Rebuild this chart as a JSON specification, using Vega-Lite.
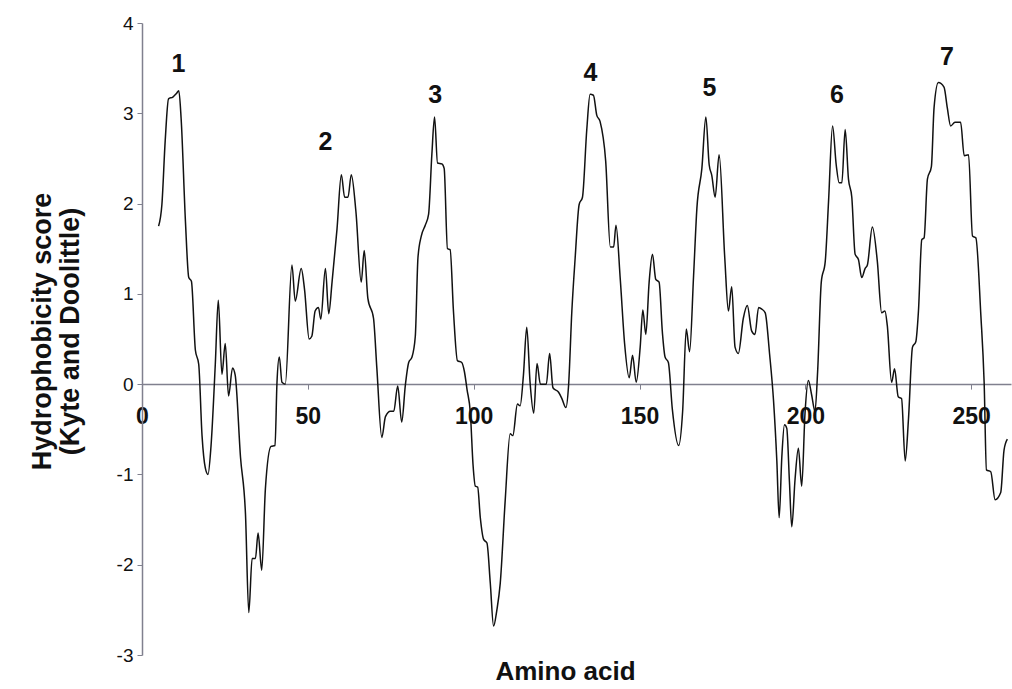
{
  "$schema": "https://vega.github.io/schema/vega-lite/v6.json",
  "width": 869,
  "height": 632,
  "autosize": "none",
  "padding": {"left": 142, "top": 23, "right": 1, "bottom": 34},
  "background": "white",
  "config": {"view": {"stroke": null}, "font": "Liberation Sans"},
  "encoding": {
    "x": {
      "field": "aa", "type": "quantitative",
      "scale": {"domain": [0, 262], "nice": false, "zero": false},
      "axis": {
        "title": "Amino acid", "offset": -270.9, "values": [0, 50, 100, 150, 200, 250], "grid": false,
        "domainColor": "#80808e", "domainWidth": 1.5, "tickColor": "#80808e", "tickSize": 5, "tickWidth": 1,
        "labelFont": "Liberation Sans", "labelFontWeight": "bold", "labelFontSize": 23, "labelColor": "#111111",
        "labelPadding": 16, "labelFlush": false, "labelOverlap": false,
        "titleFont": "Liberation Sans", "titleFontWeight": "bold", "titleFontSize": 26, "titleColor": "#111111",
        "titleX": 423, "titleY": 287, "titleBaseline": "middle", "titleAlign": "center"
      }
    },
    "y": {
      "field": "score", "type": "quantitative",
      "scale": {"domain": [-3, 4], "nice": false, "zero": false},
      "axis": {
        "title": ["Hydrophobicity score", "(Kyte and Doolittle)"], "values": [-3, -2, -1, 0, 1, 2, 3, 4], "grid": false,
        "labelExpr": "datum.value + ''",
        "domainColor": "#80808e", "domainWidth": 1.5, "tickColor": "#80808e", "tickSize": 5, "tickWidth": 1,
        "labelFont": "Liberation Sans", "labelFontSize": 19, "labelColor": "#111111", "labelPadding": 4,
        "titleFont": "Liberation Sans", "titleFontWeight": "bold", "titleFontSize": 27, "titleColor": "#111111",
        "titleX": -100, "titleY": 308, "titleAngle": -90, "titleBaseline": "middle", "titleAlign": "center", "titleLineHeight": 28
      }
    }
  },
  "layer": [
    {
      "data": {"values": [
        {"aa":5.0,"score":1.75},{"aa":6.0,"score":1.99},{"aa":7.0,"score":2.70},{"aa":8.0,"score":3.16},{"aa":9.3,"score":3.18},
        {"aa":10.4,"score":3.22},{"aa":11.1,"score":3.25},{"aa":11.8,"score":2.94},{"aa":13.1,"score":1.80},{"aa":14.1,"score":1.18},
        {"aa":14.9,"score":1.14},{"aa":16.1,"score":0.375},{"aa":17.1,"score":0.22},{"aa":18.1,"score":-0.57},{"aa":19.1,"score":-0.93},
        {"aa":19.9,"score":-1.0},{"aa":20.8,"score":-0.69},{"aa":22.1,"score":0.22},{"aa":23.0,"score":0.93},{"aa":24.1,"score":0.11},
        {"aa":25.1,"score":0.45},{"aa":26.1,"score":-0.13},{"aa":27.3,"score":0.18},{"aa":28.1,"score":0.10},{"aa":29.7,"score":-0.81},
        {"aa":31.2,"score":-1.44},{"aa":32.2,"score":-2.53},{"aa":33.2,"score":-1.93},{"aa":34.2,"score":-1.93},{"aa":35.0,"score":-1.65},
        {"aa":36.1,"score":-2.06},{"aa":37.2,"score":-1.16},{"aa":38.9,"score":-0.69},{"aa":40.1,"score":-0.68},{"aa":40.7,"score":0.02},
        {"aa":41.4,"score":0.30},{"aa":42.2,"score":0.02},{"aa":43.2,"score":0.0},{"aa":45.2,"score":1.32},{"aa":46.2,"score":0.92},
        {"aa":48.0,"score":1.28},{"aa":49.0,"score":1.05},{"aa":50.4,"score":0.50},{"aa":51.2,"score":0.53},{"aa":52.2,"score":0.81},
        {"aa":53.2,"score":0.85},{"aa":53.9,"score":0.72},{"aa":55.3,"score":1.28},{"aa":56.3,"score":0.78},{"aa":57.3,"score":1.13},
        {"aa":58.8,"score":1.72},{"aa":60.1,"score":2.32},{"aa":61.1,"score":2.07},{"aa":62.1,"score":2.07},{"aa":63.1,"score":2.32},
        {"aa":64.5,"score":1.91},{"aa":66.1,"score":1.13},{"aa":67.0,"score":1.48},{"aa":68.1,"score":0.95},{"aa":69.8,"score":0.73},
        {"aa":70.8,"score":0.18},{"aa":72.3,"score":-0.59},{"aa":73.4,"score":-0.36},{"aa":74.9,"score":-0.30},{"aa":75.9,"score":-0.30},
        {"aa":77.1,"score":-0.02},{"aa":78.3,"score":-0.42},{"aa":79.4,"score":-0.01},{"aa":80.4,"score":0.24},{"aa":81.4,"score":0.30},
        {"aa":82.4,"score":0.53},{"aa":83.2,"score":1.40},{"aa":84.2,"score":1.64},{"aa":85.4,"score":1.76},{"aa":86.4,"score":1.88},
        {"aa":87.4,"score":2.55},{"aa":88.2,"score":2.96},{"aa":89.1,"score":2.45},{"aa":90.4,"score":2.44},{"aa":91.1,"score":2.39},
        {"aa":92.1,"score":1.50},{"aa":92.9,"score":1.49},{"aa":93.9,"score":0.81},{"aa":95.1,"score":0.26},{"aa":96.4,"score":0.24},
        {"aa":97.2,"score":0.14},{"aa":98.0,"score":-0.06},{"aa":99.0,"score":-0.32},{"aa":99.8,"score":-0.89},{"aa":100.5,"score":-1.13},
        {"aa":101.2,"score":-1.14},{"aa":102.0,"score":-1.48},{"aa":103.0,"score":-1.72},{"aa":104.0,"score":-1.76},{"aa":105.0,"score":-2.2},
        {"aa":106.0,"score":-2.68},{"aa":107.0,"score":-2.5},{"aa":108.0,"score":-2.21},{"aa":109.5,"score":-1.29},{"aa":111.0,"score":-0.55},
        {"aa":111.8,"score":-0.57},{"aa":113.2,"score":-0.22},{"aa":114.0,"score":-0.24},{"aa":115.0,"score":0.10},{"aa":116.0,"score":0.63},
        {"aa":117.0,"score":0.02},{"aa":118.1,"score":-0.32},{"aa":119.1,"score":0.23},{"aa":120.1,"score":0.0},{"aa":121.9,"score":0.0},
        {"aa":122.9,"score":0.34},{"aa":123.9,"score":-0.04},{"aa":125.6,"score":-0.09},{"aa":126.6,"score":-0.16},{"aa":127.8,"score":-0.26},
        {"aa":128.6,"score":-0.02},{"aa":129.6,"score":0.81},{"aa":130.6,"score":1.40},{"aa":131.8,"score":1.99},{"aa":132.8,"score":2.07},
        {"aa":134.1,"score":2.82},{"aa":135.1,"score":3.21},{"aa":136.1,"score":3.20},{"aa":137.1,"score":2.98},{"aa":138.1,"score":2.91},
        {"aa":139.8,"score":2.47},{"aa":141.2,"score":1.52},{"aa":142.2,"score":1.52},{"aa":142.9,"score":1.76},{"aa":144.2,"score":1.16},
        {"aa":145.5,"score":0.45},{"aa":146.9,"score":0.07},{"aa":147.9,"score":0.32},{"aa":149.0,"score":0.02},{"aa":150.2,"score":0.41},
        {"aa":151.0,"score":0.82},{"aa":151.9,"score":0.55},{"aa":152.9,"score":1.13},{"aa":153.9,"score":1.44},{"aa":154.9,"score":1.16},
        {"aa":155.9,"score":1.13},{"aa":156.9,"score":0.57},{"aa":157.7,"score":0.30},{"aa":158.7,"score":0.24},{"aa":159.9,"score":-0.28},
        {"aa":161.8,"score":-0.68},{"aa":163.0,"score":-0.30},{"aa":164.1,"score":0.61},{"aa":165.1,"score":0.36},{"aa":166.3,"score":1.20},
        {"aa":167.3,"score":1.95},{"aa":168.8,"score":2.39},{"aa":170.0,"score":2.96},{"aa":171.0,"score":2.43},{"aa":171.8,"score":2.31},
        {"aa":172.8,"score":2.07},{"aa":174.0,"score":2.54},{"aa":175.7,"score":1.4},{"aa":176.8,"score":0.81},{"aa":177.8,"score":1.08},
        {"aa":178.8,"score":0.41},{"aa":179.8,"score":0.34},{"aa":181.3,"score":0.73},{"aa":182.5,"score":0.87},{"aa":183.8,"score":0.59},
        {"aa":184.8,"score":0.55},{"aa":185.9,"score":0.85},{"aa":186.9,"score":0.83},{"aa":187.9,"score":0.79},{"aa":189.2,"score":0.34},
        {"aa":190.4,"score":-0.18},{"aa":191.4,"score":-0.85},{"aa":192.1,"score":-1.48},{"aa":192.9,"score":-0.81},{"aa":193.7,"score":-0.45},
        {"aa":194.4,"score":-0.49},{"aa":195.2,"score":-1.08},{"aa":195.9,"score":-1.58},{"aa":196.9,"score":-1.05},{"aa":197.9,"score":-0.71},
        {"aa":198.9,"score":-1.13},{"aa":199.9,"score":-0.32},{"aa":200.9,"score":0.04},{"aa":201.9,"score":-0.12},{"aa":202.9,"score":-0.30},
        {"aa":203.7,"score":0.14},{"aa":204.8,"score":1.13},{"aa":206.0,"score":1.36},{"aa":207.0,"score":2.03},{"aa":208.2,"score":2.86},
        {"aa":209.3,"score":2.43},{"aa":210.2,"score":2.23},{"aa":211.0,"score":2.23},{"aa":212.0,"score":2.82},{"aa":213.0,"score":2.27},
        {"aa":214.0,"score":2.07},{"aa":215.0,"score":1.44},{"aa":216.0,"score":1.38},{"aa":217.0,"score":1.18},{"aa":218.0,"score":1.28},
        {"aa":218.7,"score":1.32},{"aa":220.2,"score":1.74},{"aa":221.7,"score":1.36},{"aa":223.0,"score":0.79},{"aa":224.0,"score":0.81},
        {"aa":224.7,"score":0.65},{"aa":226.0,"score":0.02},{"aa":226.9,"score":0.17},{"aa":228.0,"score":-0.14},{"aa":229.0,"score":-0.16},
        {"aa":230.1,"score":-0.85},{"aa":231.1,"score":-0.38},{"aa":232.3,"score":0.41},{"aa":233.3,"score":0.47},{"aa":234.1,"score":0.81},
        {"aa":235.1,"score":1.60},{"aa":235.8,"score":1.62},{"aa":236.8,"score":2.27},{"aa":238.0,"score":2.41},{"aa":238.8,"score":3.06},
        {"aa":240.1,"score":3.34},{"aa":241.8,"score":3.29},{"aa":242.8,"score":3.06},{"aa":243.8,"score":2.86},{"aa":245.1,"score":2.90},
        {"aa":246.8,"score":2.90},{"aa":247.9,"score":2.53},{"aa":249.2,"score":2.54},{"aa":250.4,"score":1.64},{"aa":251.4,"score":1.62},
        {"aa":252.9,"score":0.77},{"aa":253.9,"score":0.02},{"aa":254.6,"score":-0.95},{"aa":255.9,"score":-0.97},{"aa":257.2,"score":-1.28},
        {"aa":258.9,"score":-1.20},{"aa":259.9,"score":-0.73},{"aa":260.9,"score":-0.61}
      ]},
      "mark": {"type": "line", "interpolate": "monotone", "color": "#111111", "strokeWidth": 1.5}
    },
    {
      "data": {"values": [
        {"aa":11.0,"score":3.55,"label":"1"},{"aa":55.3,"score":2.68,"label":"2"},{"aa":88.4,"score":3.20,"label":"3"},
        {"aa":135.2,"score":3.45,"label":"4"},{"aa":171.1,"score":3.28,"label":"5"},{"aa":209.5,"score":3.20,"label":"6"},
        {"aa":242.7,"score":3.62,"label":"7"}
      ]},
      "mark": {"type": "text", "font": "Liberation Sans", "fontWeight": "bold", "fontSize": 25, "color": "#111111", "align": "center", "baseline": "middle"},
      "encoding": {"text": {"field": "label"}}
    }
  ]
}
